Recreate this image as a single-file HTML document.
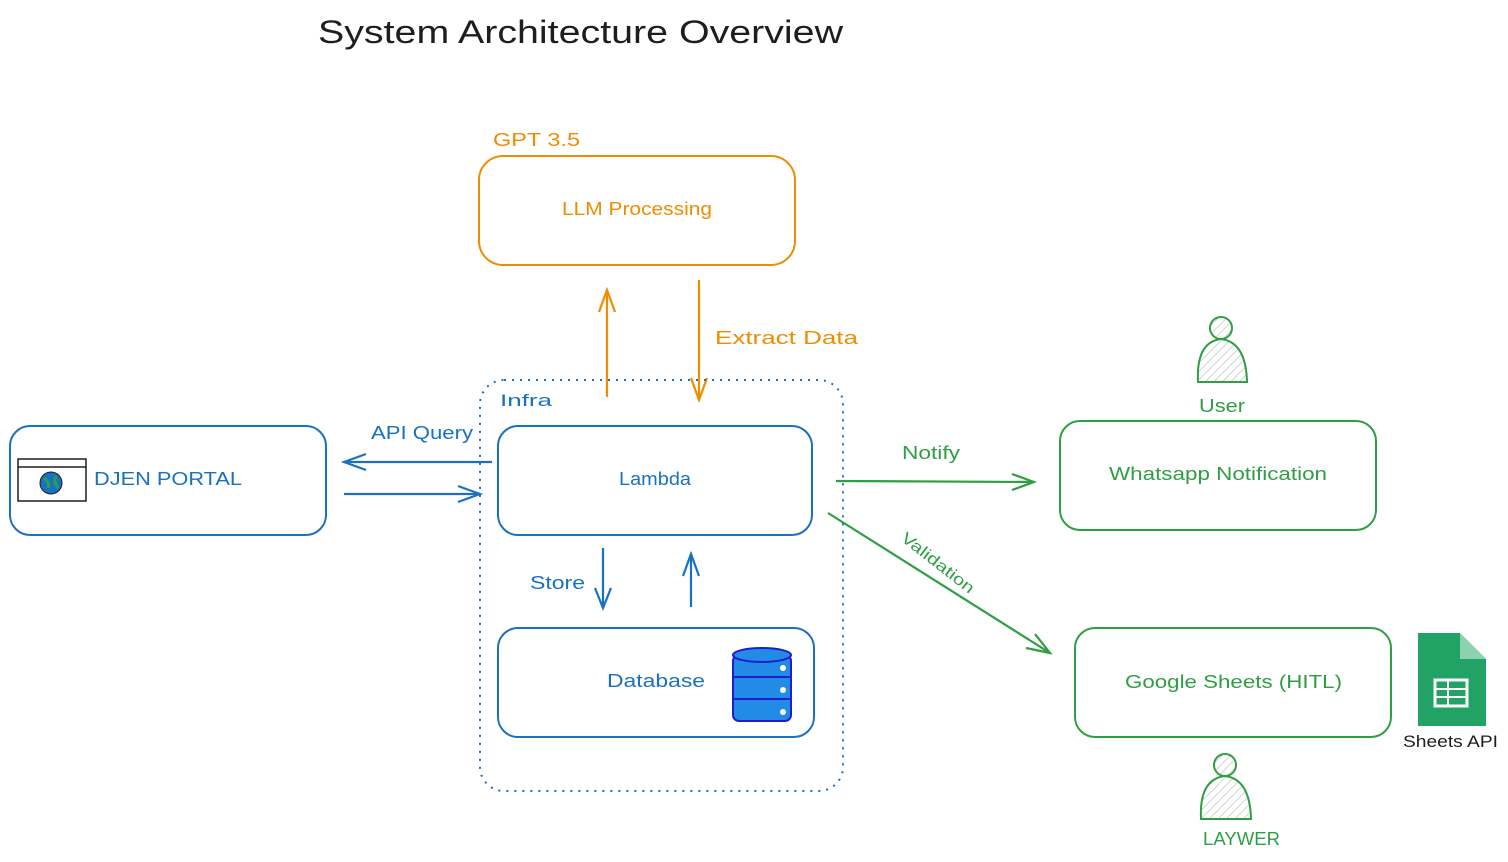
<!DOCTYPE html>
<html><head><meta charset="utf-8"><style>
html,body{margin:0;padding:0;background:#fff;}
svg{display:block;}
text{font-family:"Liberation Sans",sans-serif;}
</style></head><body>
<svg width="1508" height="862" viewBox="0 0 1508 862" xmlns="http://www.w3.org/2000/svg">
<defs>
<pattern id="hatch" width="6" height="6" patternUnits="userSpaceOnUse" patternTransform="rotate(45)">
<line x1="0" y1="0" x2="0" y2="6" stroke="#aaa" stroke-width="1"/></pattern>
</defs>
<text x="318" y="43" font-size="32" fill="#1e1e1e" textLength="525" lengthAdjust="spacingAndGlyphs">System Architecture Overview</text>

<!-- LLM -->
<text x="493" y="146" font-size="18" fill="#f08c00" textLength="87" lengthAdjust="spacingAndGlyphs">GPT 3.5</text>
<rect x="479" y="156" width="316" height="109" rx="24" fill="none" stroke="#f08c00" stroke-width="2"/>
<text x="562" y="215" font-size="18" fill="#f08c00" textLength="150" lengthAdjust="spacingAndGlyphs">LLM Processing</text>

<g stroke="#f08c00" stroke-width="2.2" fill="none">
<line x1="607" y1="397" x2="607" y2="290"/><polyline points="599,312 607,290 615,312"/>
<line x1="699" y1="280" x2="699" y2="400"/><polyline points="691,378 699,400 707,378"/>
</g>
<text x="715" y="344" font-size="18" fill="#f08c00" textLength="143" lengthAdjust="spacingAndGlyphs">Extract Data</text>

<!-- Infra -->
<rect x="480" y="380" width="363" height="411" rx="24" fill="none" stroke="#1971c2" stroke-width="2" stroke-dasharray="2,6"/>
<text x="500" y="406" font-size="17" fill="#1971c2" textLength="52" lengthAdjust="spacingAndGlyphs">Infra</text>

<rect x="498" y="426" width="314" height="109" rx="20" fill="none" stroke="#1971c2" stroke-width="2"/>
<text x="619" y="485" font-size="18" fill="#1971c2" textLength="72" lengthAdjust="spacingAndGlyphs">Lambda</text>

<rect x="498" y="628" width="316" height="109" rx="20" fill="none" stroke="#1971c2" stroke-width="2"/>
<text x="607" y="687" font-size="18" fill="#1971c2" textLength="98" lengthAdjust="spacingAndGlyphs">Database</text>
<g stroke="#1e1ecc" stroke-width="2" fill="#228be6">
<rect x="733" y="655" width="58" height="66" rx="6"/>
<ellipse cx="762" cy="655" rx="29" ry="7"/>
<line x1="733" y1="677" x2="791" y2="677"/><line x1="733" y1="699" x2="791" y2="699"/>
</g>
<g fill="#fff"><circle cx="783" cy="668" r="3"/><circle cx="783" cy="690" r="3"/><circle cx="783" cy="712" r="3"/></g>

<g stroke="#1971c2" stroke-width="2.2" fill="none">
<line x1="603" y1="548" x2="603" y2="608"/><polyline points="595,588 603,608 611,588"/>
<line x1="691" y1="607" x2="691" y2="554"/><polyline points="683,576 691,554 699,576"/>
<line x1="492" y1="462" x2="344" y2="462"/><polyline points="366,454 344,462 366,470"/>
<line x1="344" y1="494" x2="480" y2="494"/><polyline points="458,486 480,494 458,502"/>
</g>
<text x="530" y="589" font-size="18" fill="#1971c2" textLength="55" lengthAdjust="spacingAndGlyphs">Store</text>
<text x="371" y="439" font-size="18" fill="#1971c2" textLength="102" lengthAdjust="spacingAndGlyphs">API Query</text>

<!-- portal -->
<rect x="10" y="426" width="316" height="109" rx="20" fill="none" stroke="#1971c2" stroke-width="2"/>
<rect x="18" y="459" width="68" height="42" fill="#fff" stroke="#1e1e1e" stroke-width="1.5"/>
<line x1="18" y1="467" x2="86" y2="467" stroke="#1e1e1e" stroke-width="1.5"/>
<circle cx="51" cy="483" r="11" fill="#1971c2" stroke="#1e1e1e"/>
<path d="M44 478 q6 4 4 10 M56 476 q-3 6 2 12" stroke="#2f9e44" stroke-width="3" fill="none"/>
<text x="94" y="485" font-size="18" fill="#1971c2" textLength="148" lengthAdjust="spacingAndGlyphs">DJEN PORTAL</text>

<!-- green -->
<g stroke="#2f9e44" stroke-width="2.2" fill="none">
<line x1="836" y1="481" x2="1034" y2="482"/><polyline points="1012,474 1034,482 1012,490"/>
<line x1="828" y1="513" x2="1050" y2="653"/><polyline points="1026,648 1050,653 1035,634"/>
</g>
<text x="902" y="459" font-size="18" fill="#2f9e44" textLength="58" lengthAdjust="spacingAndGlyphs">Notify</text>
<text x="900" y="540" font-size="16" fill="#2f9e44" transform="rotate(38 900 540)" textLength="88" lengthAdjust="spacingAndGlyphs">Validation</text>

<rect x="1060" y="421" width="316" height="109" rx="20" fill="none" stroke="#2f9e44" stroke-width="2"/>
<text x="1109" y="480" font-size="18" fill="#2f9e44" textLength="218" lengthAdjust="spacingAndGlyphs">Whatsapp Notification</text>
<rect x="1075" y="628" width="316" height="109" rx="20" fill="none" stroke="#2f9e44" stroke-width="2"/>
<text x="1125" y="688" font-size="18" fill="#2f9e44" textLength="217" lengthAdjust="spacingAndGlyphs">Google Sheets (HITL)</text>

<g stroke="#2f9e44" stroke-width="2" fill="url(#hatch)">
<circle cx="1221" cy="328" r="11"/>
<path d="M1198 382 q-2-40 23-43 q25 3 26 43 z"/>
<circle cx="1225" cy="765" r="11"/>
<path d="M1201 819 q-2-40 24-43 q25 3 26 43 z"/>
</g>
<text x="1199" y="412" font-size="18" fill="#2f9e44" textLength="46" lengthAdjust="spacingAndGlyphs">User</text>
<text x="1203" y="845" font-size="18" fill="#2f9e44" textLength="77" lengthAdjust="spacingAndGlyphs">LAYWER</text>

<path d="M1418 633 h42 l26 26 v67 h-68 z" fill="#21a366"/>
<path d="M1460 633 v26 h26 z" fill="#8ed1b0"/>
<rect x="1435" y="680" width="32" height="26" fill="none" stroke="#fff" stroke-width="3"/>
<line x1="1435" y1="689" x2="1467" y2="689" stroke="#fff" stroke-width="2"/>
<line x1="1435" y1="697" x2="1467" y2="697" stroke="#fff" stroke-width="2"/>
<line x1="1448" y1="680" x2="1448" y2="706" stroke="#fff" stroke-width="2"/>
<text x="1403" y="747" font-size="17" fill="#1e1e1e" textLength="95" lengthAdjust="spacingAndGlyphs">Sheets API</text>
</svg>
</body></html>
